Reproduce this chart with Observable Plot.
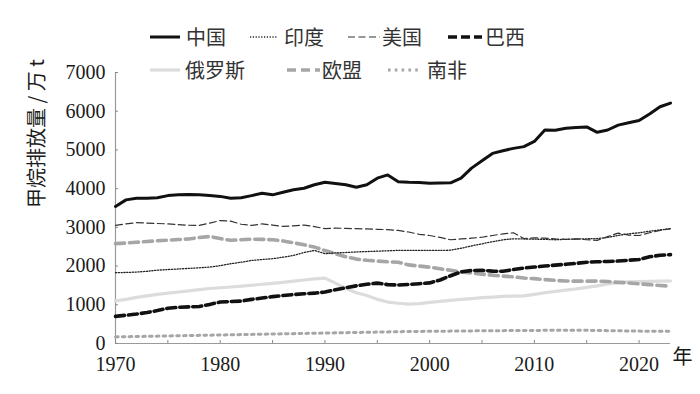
<!DOCTYPE html>
<html><head><meta charset="utf-8">
<script src="https://cdn.jsdelivr.net/npm/d3@7"></script>
<script src="https://cdn.jsdelivr.net/npm/@observablehq/plot@0.6"></script>
<style>
body{margin:0;background:#fff;}
#wrap{position:relative;width:700px;height:394px;overflow:hidden;}
.lg{position:absolute;height:24px;display:flex;align-items:center;font-family:"Noto Sans CJK SC";font-size:20px;color:#333;line-height:24px;white-space:nowrap;}
.lg svg{display:block;}
</style></head><body><div id="wrap"></div>
<script>
// ---- data (万 t) ----
const years = [1970,1971,1972,1973,1974,1975,1976,1977,1978,1979,1980,1981,1982,1983,1984,1985,1986,1987,1988,1989,1990,1991,1992,1993,1994,1995,1996,1997,1998,1999,2000,2001,2002,2003,2004,2005,2006,2007,2008,2009,2010,2011,2012,2013,2014,2015,2016,2017,2018,2019,2020,2021,2022,2023];
const china = [3540,3710,3750,3755,3765,3820,3845,3850,3840,3820,3800,3750,3765,3820,3880,3840,3905,3970,4010,4100,4165,4130,4100,4035,4100,4270,4355,4180,4165,4160,4140,4145,4150,4270,4530,4720,4910,4980,5040,5085,5220,5515,5510,5560,5580,5595,5455,5515,5640,5700,5760,5930,6115,6210];
const india = [1830,1835,1845,1865,1895,1910,1925,1940,1955,1975,2010,2060,2100,2145,2170,2190,2230,2275,2350,2405,2320,2340,2350,2365,2375,2385,2395,2405,2405,2405,2405,2405,2410,2460,2520,2575,2630,2680,2705,2700,2695,2690,2680,2690,2700,2705,2710,2740,2790,2835,2860,2900,2935,2965];
const usa = [3050,3090,3120,3110,3100,3090,3070,3055,3050,3110,3175,3160,3080,3050,3090,3060,3025,3040,3060,3020,2965,2980,2975,2965,2960,2950,2940,2920,2880,2820,2790,2740,2680,2700,2720,2745,2790,2830,2860,2710,2730,2720,2700,2690,2700,2680,2665,2760,2850,2800,2790,2860,2920,2965];
const brazil = [700,730,760,800,850,910,935,945,955,1010,1070,1085,1095,1140,1175,1210,1240,1265,1285,1300,1330,1390,1440,1490,1530,1560,1520,1510,1525,1545,1565,1640,1750,1850,1885,1890,1870,1865,1910,1950,1975,2000,2025,2045,2070,2100,2110,2120,2130,2150,2170,2240,2280,2295];
const russia = [1100,1140,1190,1230,1270,1300,1330,1360,1390,1420,1440,1460,1480,1505,1530,1555,1580,1610,1640,1670,1690,1560,1420,1310,1240,1140,1070,1040,1015,1030,1060,1090,1115,1140,1160,1185,1200,1215,1225,1230,1270,1310,1345,1380,1410,1450,1490,1540,1570,1590,1600,1605,1610,1615];
const eu = [2580,2595,2615,2635,2655,2670,2685,2700,2740,2765,2710,2665,2680,2695,2690,2680,2650,2600,2550,2490,2400,2320,2240,2180,2150,2130,2110,2100,2030,2000,1970,1930,1890,1850,1820,1790,1765,1740,1720,1690,1675,1650,1630,1615,1610,1610,1612,1600,1580,1565,1540,1520,1500,1480];
const southAfrica = [170,175,180,185,190,195,200,205,210,215,220,225,230,235,240,245,250,255,260,265,270,275,280,285,290,295,300,305,310,312,315,318,320,322,325,328,330,332,335,335,338,340,342,343,343,340,336,332,328,324,320,318,317,316];
const seriesNames = ["中国","印度","美国","巴西","俄罗斯","欧盟","南非"];
const xTicks = [1970,1975,1980,1985,1990,1995,2000,2005,2010,2015,2020];
const yTicks = [0,1000,2000,3000,4000,5000,6000,7000];
const yTitle = "甲烷排放量 / 万 t";
const xUnit = "年";

// ---- styles ----
const values = [china, india, usa, brazil, russia, eu, southAfrica];
const styles = [
  {stroke:"#111", strokeWidth:3},
  {stroke:"#222", strokeWidth:1.3, strokeDasharray:"1.2 1.6"},
  {stroke:"#333", strokeWidth:1.2, strokeDasharray:"7 3.5"},
  {stroke:"#111", strokeWidth:3.6, strokeDasharray:"9 4"},
  {stroke:"#dcdcdc", strokeWidth:3.2},
  {stroke:"#a6a6a6", strokeWidth:3.6, strokeDasharray:"9 5"},
  {stroke:"#a6a6a6", strokeWidth:3, strokeDasharray:"2.6 4.2"}
];
const drawOrder = [4,6,5,1,2,3,0];

const lineMarks = drawOrder.map(i => Plot.line(years.map((y, j) => ({year: y, v: values[i][j]})), {
  x: "year", y: "v", strokeLinejoin: "round", ...styles[i]
}));

const chart = Plot.plot({
  width: 700, height: 394,
  marginLeft: 115, marginRight: 30, marginTop: 72, marginBottom: 51,
  style: {fontFamily: "'Liberation Serif', 'Times New Roman', serif", fontSize: "20px", color: "#1a1a1a", background: "#fff"},
  x: {domain: [1970, 2023]},
  y: {domain: [0, 7000]},
  marks: [
    Plot.ruleY([0], {stroke: "#9a9a9a", strokeWidth: 1.2}),
    Plot.ruleX([1970], {stroke: "#9a9a9a", strokeWidth: 1.2}),
    Plot.axisX(xTicks, {tickSize: -3, tickPadding: 16, stroke: "#888", fill: "#1a1a1a", label: null,
      tickFormat: d => d % 10 === 0 ? String(d) : ""}),
    Plot.axisY(yTicks, {tickSize: -3, tickPadding: 13, stroke: "#888", fill: "#1a1a1a", label: null,
      tickFormat: d => String(d)}),
    ...lineMarks,
    Plot.text([xUnit], {x: () => 2023, text: d => d, frameAnchor: "bottom", dy: 20, dx: 2, textAnchor: "start",
      fontFamily: "Noto Sans CJK SC", fontSize: 20, fill: "#1a1a1a"}),
    Plot.text([yTitle], {frameAnchor: "left", text: d => d, rotate: -90, dx: -78,
      fontFamily: "Noto Sans CJK SC", fontSize: 20, fill: "#1a1a1a"})
  ]
});
const wrap = document.getElementById("wrap");
wrap.appendChild(chart);

// ---- legend (HTML overlay) ----
const legendLayout = [
  {left:150, w:30, gap:6, top:25},
  {left:250, w:27, gap:7, top:25},
  {left:348, w:32, gap:2, top:25},
  {left:448, w:34, gap:3, top:25},
  {left:150, w:30, gap:5, top:58},
  {left:287, w:33, gap:2, top:58},
  {left:388, w:30, gap:9, top:58}
];
seriesNames.forEach((name, i) => {
  const L = legendLayout[i], s = styles[i];
  const div = document.createElement("div");
  div.className = "lg";
  div.style.left = L.left + "px";
  div.style.top = L.top + "px";
  div.innerHTML = `<svg width="${L.w}" height="24"><line x1="0" x2="${L.w}" y1="12" y2="12" stroke="${s.stroke}" stroke-width="${s.strokeWidth}" ${s.strokeDasharray ? `stroke-dasharray="${s.strokeDasharray}"` : ""}/></svg><span style="margin-left:${L.gap}px">${name}</span>`;
  wrap.appendChild(div);
});
</script></body></html>
